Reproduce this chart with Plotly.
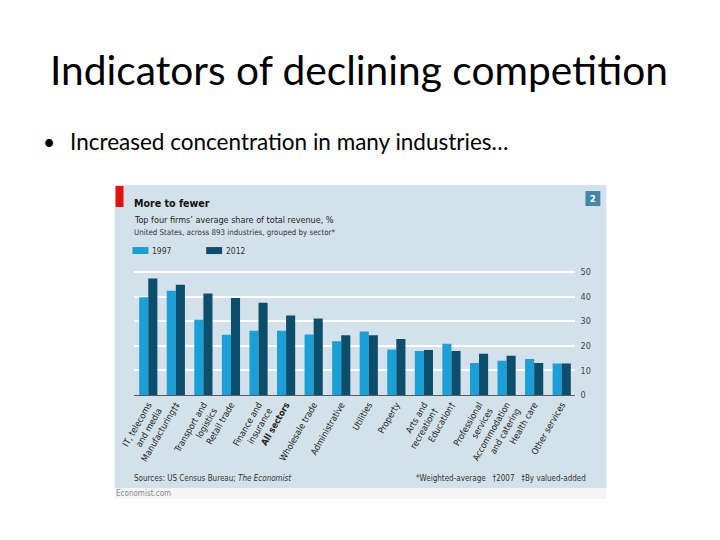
import plotly.graph_objects as go

categories = ["IT, telecoms<br>and media", "Manufacturing†‡", "Transport and<br>logistics",
              "Retail trade", "Finance and<br>insurance", "<b>All sectors</b>", "Wholesale trade",
              "Administrative", "Utilities", "Property", "Arts and<br>recreation†", "Education†",
              "Professional<br>services", "Accommodation<br>and catering", "Health care", "Other services"]
share_1997 = [39.8, 42.4, 30.6, 24.5, 26.1, 26.1, 24.6, 21.9, 25.8, 18.5, 17.9, 20.9, 13.0, 13.9, 14.7, 12.8]
share_2012 = [47.4, 44.8, 41.3, 39.5, 37.5, 32.3, 31.1, 24.3, 24.3, 22.8, 18.3, 17.9, 16.8, 16.0, 13.0, 12.8]
y_ticks = [0, 10, 20, 30, 40, 50]

W, H = 720, 540
# screen position -> paper fraction (compensates the observed page offset/scale)
OX, OY, S = 20, 12, 0.985
def px(x): return (x - OX) / S / W
def py(y): return 1 - (y - OY) / S / H

LIGHT = "#1a9fd6"
DARK = "#0d4e6c"
PANEL = "#d3e2ea"
FONT = "DejaVu Sans Condensed, Roboto, sans-serif"

idx = list(range(len(categories)))
fig = go.Figure()
fig.add_bar(x=idx, y=share_1997, name="1997", marker_color=LIGHT, marker_line_width=0)
fig.add_bar(x=idx, y=share_2012, name="2012", marker_color=DARK, marker_line_width=0)

y0, ytop = 396, 273
unit = (y0 - ytop) / 50
rmax = 50.8
fig.update_layout(
    width=W, height=H, margin=dict(l=0, r=0, t=0, b=0),
    paper_bgcolor="white", plot_bgcolor=PANEL,
    barmode="group", bargap=0.34, bargroupgap=0,
    showlegend=False,
    xaxis=dict(domain=[px(133), px(576)], tickmode="array", tickvals=idx, ticktext=categories,
               tickangle=-60, showgrid=False, showline=True, linecolor="#5a5a5a", linewidth=1,
               ticks="", tickfont=dict(family=FONT, size=9, color="#222"), range=[-0.5, 15.5]),
    yaxis=dict(domain=[py(y0), py(y0 - rmax * unit)], range=[0, rmax], side="right",
               tickvals=y_ticks, showgrid=True, gridcolor="white", gridwidth=1.5,
               zeroline=False, ticks="", ticklabelstandoff=4,
               tickfont=dict(family=FONT, size=9, color="#444")),
)

shapes = [
    dict(type="rect", xref="paper", yref="paper", x0=px(113), x1=px(607), y0=py(489), y1=py(186),
         fillcolor=PANEL, line_width=0, layer="below"),
    dict(type="rect", xref="paper", yref="paper", x0=px(113), x1=px(607), y0=py(500), y1=py(489),
         fillcolor="#f5f5f5", line_width=0, layer="below"),
    dict(type="rect", xref="paper", yref="paper", x0=px(114), x1=px(122), y0=py(208), y1=py(187),
         fillcolor="#e3120b", line_width=0),
    dict(type="rect", xref="paper", yref="paper", x0=px(586), x1=px(601), y0=py(207), y1=py(192),
         fillcolor="#4287a7", line_width=0),
    dict(type="rect", xref="paper", yref="paper", x0=px(131), x1=px(147), y0=py(255), y1=py(248),
         fillcolor=LIGHT, line_width=0),
    dict(type="rect", xref="paper", yref="paper", x0=px(205), x1=px(221), y0=py(255), y1=py(248),
         fillcolor=DARK, line_width=0),
]
fig.update_layout(shapes=shapes)

def ann(text, x, y, size, color="#222", xanchor="left", family=FONT, bold=False):
    if bold:
        text = "<b>" + text + "</b>"
    fig.add_annotation(text=text, x=px(x), y=py(y), xref="paper", yref="paper",
                       xanchor=xanchor, yanchor="middle", showarrow=False,
                       font=dict(family=family, size=size, color=color))

SLIDE = "Lato, Carlito, sans-serif"
ann("Indicators of declining competition", 359, 70, 40.7, "#000", "center", SLIDE)
ann("•", 39, 142, 21, "#000", "left", SLIDE)
ann("Increased concentration in many industries…", 66, 142, 22.5, "#000", "left", SLIDE)

ann("More to fewer", 130, 204, 10.6, "#111", bold=True)
ann("Top four firms’ average share of total revenue, %", 130, 221, 9.0, "#222")
ann("United States, across 893 industries, grouped by sector*", 130, 233, 7.9, "#333")
ann("1997", 149, 252, 8.5, "#333")
ann("2012", 223, 252, 8.5, "#333")
ann("2", 593.5, 200, 9, "white", "center", bold=True)
ann("Sources: US Census Bureau; <i>The Economist</i>", 130, 479, 8, "#333")
ann("*Weighted-average   †2007   ‡By valued-added", 589, 479, 8, "#333", "right")
ann("Economist.com", 112, 494, 8, "#888")

fig.write_html("out.html")
